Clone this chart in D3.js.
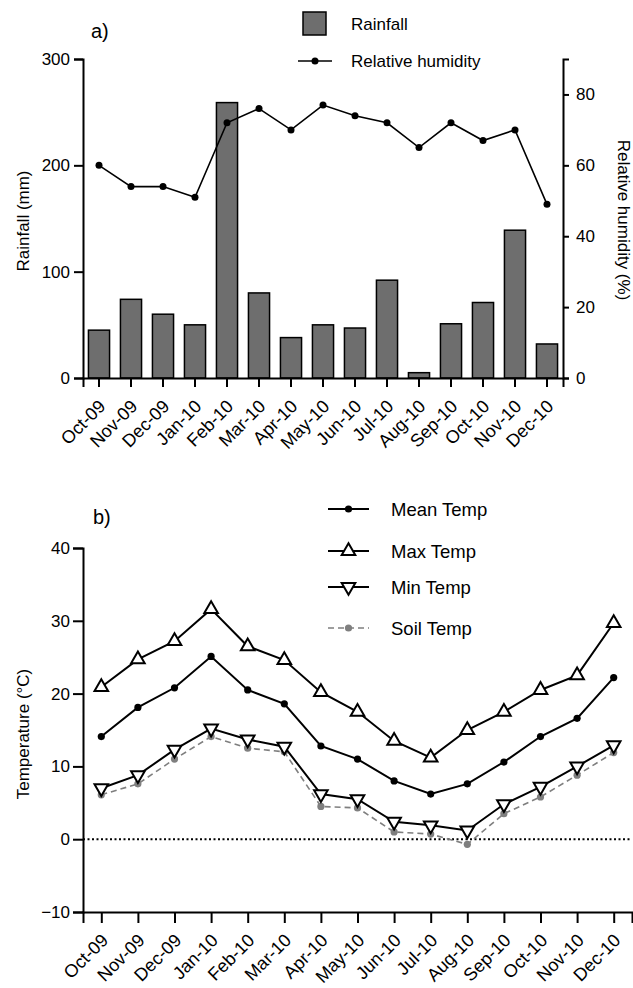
<!DOCTYPE html>
<html>
<head>
<meta charset="utf-8">
<script src="https://cdn.jsdelivr.net/npm/d3@7"></script>
<style>
	body { margin: 0; background: #fff; }
	text { font-family: Arial, "Liberation Sans", sans-serif; fill: #000; }
</style>
</head>
<body>
<svg id="chart" width="633" height="988"></svg>
<script>
var months = ["Oct-09","Nov-09","Dec-09","Jan-10","Feb-10","Mar-10","Apr-10","May-10","Jun-10","Jul-10","Aug-10","Sep-10","Oct-10","Nov-10","Dec-10"];

// panel a
var rainfall = [45, 74, 60, 50, 259, 80, 38, 50, 47, 92, 5, 51, 71, 139, 32];
var humidity = [60, 54, 54, 51, 72, 76, 70, 77, 74, 72, 65, 72, 67, 70, 49];
var rainTicks = [0, 100, 200, 300];
var rhTicks = [0, 20, 40, 60, 80];

// panel b
var meanTemp = [14.1, 18.1, 20.8, 25.1, 20.5, 18.6, 12.8, 11.0, 8.0, 6.2, 7.6, 10.6, 14.1, 16.6, 22.2];
var maxTemp = [20.9, 24.7, 27.2, 31.6, 26.5, 24.6, 20.2, 17.5, 13.5, 11.2, 15.0, 17.5, 20.5, 22.5, 29.7];
var minTemp = [7.0, 8.8, 12.3, 15.2, 13.7, 12.7, 6.2, 5.5, 2.4, 1.9, 1.2, 4.8, 7.2, 10.0, 12.9];
var soilTemp = [6.1, 7.6, 11.0, 14.1, 12.5, 12.0, 4.5, 4.3, 1.0, 0.7, -0.7, 3.5, 5.8, 8.8, 11.9];
var tempTicks = [-10, 0, 10, 20, 30, 40];

var svg = d3.select("#chart"),
	font = "17px";

function styleAxis(g) {
	g.select(".domain").attr("stroke", "#000").attr("stroke-width", 2);
	g.selectAll(".tick line").attr("stroke", "#000").attr("stroke-width", 2);
	g.selectAll(".tick text").style("font-size", font).attr("fill", "#000");
}

function rotateLabels(g) {
	g.selectAll(".tick text")
		.style("font-size", "18px")
		.attr("x", 0).attr("y", 0).attr("dy", "0.35em")
		.attr("text-anchor", "end")
		.attr("transform", "translate(3,25) rotate(-45)");
}

/* ---------- a) rainfall + humidity ---------- */
var xa = d3.scaleBand().domain(months).range([83, 563]).paddingInner(0.34).paddingOuter(0.17),
	ya = d3.scaleLinear().domain([0, 300]).range([378, 59]),
	yh = d3.scaleLinear().domain([0, 90]).range([378, 59]);

var a = svg.append("g");

a.selectAll("rect.bar")
	.data(rainfall)
	.enter().append("rect")
	.attr("class", "bar")
	.attr("x", function(d, i) { return xa(months[i]); })
	.attr("y", function(d) { return ya(d); })
	.attr("width", xa.bandwidth())
	.attr("height", function(d) { return ya(0) - ya(d); })
	.attr("fill", "#6e6e6e")
	.attr("stroke", "#000")
	.attr("stroke-width", 1.5);

a.append("g")
	.attr("transform", "translate(0,378)")
	.call(d3.axisBottom(xa).tickSizeOuter(0).tickSize(9))
	.call(styleAxis)
	.call(rotateLabels);

a.append("g")
	.attr("transform", "translate(83,0)")
	.call(d3.axisLeft(ya).tickValues(rainTicks).tickSizeOuter(0).tickSize(9).tickPadding(4))
	.call(styleAxis);

a.append("g")
	.attr("transform", "translate(563,0)")
	.call(d3.axisRight(yh).tickValues(rhTicks).tickSizeOuter(0).tickSize(6).tickPadding(7))
	.call(styleAxis);

var rhLine = d3.line()
	.x(function(d, i) { return xa(months[i]) + xa.bandwidth()/2; })
	.y(function(d) { return yh(d); });

a.append("path")
	.datum(humidity)
	.attr("d", rhLine)
	.attr("fill", "none")
	.attr("stroke", "#000")
	.attr("stroke-width", 1.6);

a.selectAll("circle.rh")
	.data(humidity)
	.enter().append("circle")
	.attr("class", "rh")
	.attr("cx", function(d, i) { return xa(months[i]) + xa.bandwidth()/2; })
	.attr("cy", function(d) { return yh(d); })
	.attr("r", 3.5)
	.attr("fill", "#000");

a.append("text").attr("x", 91).attr("y", 38).style("font-size", "20px").text("a)");

a.append("text")
	.attr("transform", "translate(29,221) rotate(-90)")
	.attr("text-anchor", "middle")
	.style("font-size", font)
	.text("Rainfall (mm)");

a.append("text")
	.attr("transform", "translate(618,220) rotate(90)")
	.attr("text-anchor", "middle")
	.style("font-size", font)
	.text("Relative humidity  (%)");

// legend a
a.append("rect")
	.attr("x", 303).attr("y", 12).attr("width", 23).attr("height", 23)
	.attr("fill", "#6e6e6e").attr("stroke", "#000").attr("stroke-width", 1.5);
a.append("text").attr("x", 351).attr("y", 30).style("font-size", font).text("Rainfall");
a.append("line").attr("x1", 298).attr("x2", 332).attr("y1", 61).attr("y2", 61)
	.attr("stroke", "#000").attr("stroke-width", 1.6);
a.append("circle").attr("cx", 315).attr("cy", 61).attr("r", 3.5).attr("fill", "#000");
a.append("text").attr("x", 351).attr("y", 67).style("font-size", font).text("Relative humidity");

/* ---------- b) temperatures ---------- */
var xb = d3.scalePoint().domain(months).range([83, 632]).padding(0.5),
	yb = d3.scaleLinear().domain([-10, 40]).range([912, 548]);

var b = svg.append("g");

b.append("line")
	.attr("x1", 83).attr("x2", 632)
	.attr("y1", yb(0)).attr("y2", yb(0))
	.attr("stroke", "#000").attr("stroke-width", 2)
	.attr("stroke-dasharray", "2,2.5");

b.append("g")
	.attr("transform", "translate(0," + yb(-10) + ")")
	.call(d3.axisBottom(xb).tickSizeOuter(0).tickSize(11))
	.call(styleAxis)
	.call(rotateLabels);

b.append("g")
	.attr("transform", "translate(83,0)")
	.call(d3.axisLeft(yb).tickValues(tempTicks).tickSizeOuter(0).tickSize(10).tickPadding(3))
	.call(styleAxis);

var tLine = d3.line()
	.x(function(d, i) { return xb(months[i]); })
	.y(function(d) { return yb(d); });

var series = [
	{ name: "Soil Temp", values: soilTemp, color: "#7f7f7f", dash: "6,4", marker: "dot" },
	{ name: "Min Temp", values: minTemp, color: "#000", dash: null, marker: "down" },
	{ name: "Mean Temp", values: meanTemp, color: "#000", dash: null, marker: "dot" },
	{ name: "Max Temp", values: maxTemp, color: "#000", dash: null, marker: "up" }
];

var triangle = d3.symbol().type(d3.symbolTriangle).size(80);

function drawMarker(sel, s) {
	if (s.marker == "dot") {
		sel.append("circle").attr("r", 3.6).attr("fill", s.color);
	} else {
		sel.append("path")
			.attr("d", triangle)
			.attr("transform", s.marker == "down" ? "rotate(180)" : null)
			.attr("fill", "#fff")
			.attr("stroke", "#000")
			.attr("stroke-width", 2);
	}
}

series.forEach(function(s) {
	b.append("path")
		.datum(s.values)
		.attr("d", tLine)
		.attr("fill", "none")
		.attr("stroke", s.color)
		.attr("stroke-width", s.dash ? 1.6 : 2)
		.attr("stroke-dasharray", s.dash);

	s.values.forEach(function(v, i) {
		var m = b.append("g").attr("transform", "translate(" + xb(months[i]) + "," + yb(v) + ")");
		drawMarker(m, s);
	});
});

b.append("text").attr("x", 93).attr("y", 524).style("font-size", "20px").text("b)");

b.append("text")
	.attr("transform", "translate(29,734) rotate(-90)")
	.attr("text-anchor", "middle")
	.style("font-size", font)
	.text("Temperature (°C)");

// legend b
var legendRows = [
	{ s: series[2], y: 509 },
	{ s: series[3], y: 551 },
	{ s: series[1], y: 587 },
	{ s: series[0], y: 628 }
];

legendRows.forEach(function(r) {
	b.append("line")
		.attr("x1", 328).attr("x2", 369).attr("y1", r.y).attr("y2", r.y)
		.attr("stroke", r.s.color)
		.attr("stroke-width", r.s.dash ? 1.6 : 2)
		.attr("stroke-dasharray", r.s.dash);
	drawMarker(b.append("g").attr("transform", "translate(348.5," + r.y + ")"), r.s);
	b.append("text")
		.attr("x", 391).attr("y", r.y + 7)
		.style("font-size", "18.5px")
		.text(r.s.name);
});
</script>
</body>
</html>
